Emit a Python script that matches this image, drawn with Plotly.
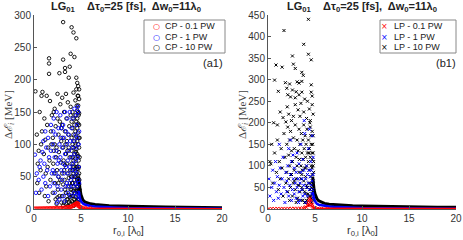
import plotly.graph_objects as go

# ---------------- data ----------------
# Left panel: circularly polarised (CP), scattered particles (r0 [lambda0], dE [MeV])
cp10_pts = [(0.15,182),(0.3,115),(0.6,150),(0.9,181),(0.8,175),(0.5,90),(0.7,60),(0.35,40),(0.85,120),(0.55,25),(0.75,100),(0.4,70),
    (1.2,107),(1.35,175),(1.7,167),(1.6,233),(1.6,225),(1.6,209),(1.1,140),(1.4,130),(1.05,85),(1.25,55),(1.5,95),(1.8,120),(1.65,75),(1.9,145),(1.3,35),(1.75,45),(1.15,20),(1.55,12),(1.85,100),(1.45,65),
    (2.0,110),(2.1,150),(2.2,155),(2.3,128),(2.4,95),(2.5,178),(2.6,115),(2.7,210),(2.8,162),(2.05,70),(2.15,55),(2.25,40),(2.35,80),(2.45,60),(2.55,30),(2.65,88),(2.75,135),(2.85,72),(2.0,25),(2.3,15),(2.6,50),(2.9,105),(2.4,8),(2.7,20),(2.8,45),(2.2,100),(2.5,140),(2.9,125),(2.1,90),
    (3.0,172),(3.1,289),(3.1,231),(3.2,150),(3.3,218),(3.3,212),(3.4,178),(3.6,165),(3.7,203),(3.8,220),(3.0,130),(3.05,110),(3.1,95),(3.15,75),(3.2,60),(3.25,45),(3.3,120),(3.35,100),(3.4,85),(3.45,140),(3.5,70),(3.55,55),(3.6,35),(3.65,115),(3.7,95),(3.75,128),(3.8,80),(3.85,60),(3.9,145),(3.0,20),(3.2,10),(3.4,25),(3.6,15),(3.8,40),(3.5,105),(3.7,48),(3.9,30),(3.3,68),(3.1,38),(3.55,90),(3.75,22),(3.45,8),
    (3.9,240),(3.9,158),(4.0,281),(4.1,150),(4.2,273),(4.2,180),(4.3,235),(4.4,168),(4.5,264),(4.5,203),(4.5,185),(4.6,195),(4.6,152),(4.7,190),(4.7,175),(4.7,160),(4.8,148),
    (4.0,135),(4.0,110),(4.0,90),(4.0,70),(4.0,50),(4.0,30),(4.05,12),(4.1,125),(4.1,100),(4.1,80),(4.1,60),(4.1,40),(4.15,20),(4.2,140),(4.2,115),(4.2,95),(4.2,75),(4.2,55),(4.25,35),(4.3,130),(4.3,105),(4.3,85),(4.3,65),(4.3,45),(4.35,25),(4.35,10),(4.4,145),(4.4,120),(4.4,98),(4.4,78),(4.4,58),(4.45,38),(4.45,18),(4.5,135),(4.5,112),(4.5,92),(4.5,70),(4.5,50),(4.55,30),(4.55,12),(4.6,140),(4.6,125),(4.6,105),(4.6,85),(4.6,65),(4.6,45),(4.65,28),(4.65,15),(4.7,150),(4.7,132),(4.7,118),(4.7,100),(4.7,82),(4.7,62),(4.7,42),(4.75,30),(4.75,20),(4.75,145),(4.75,110),(4.75,75),(4.8,130),(4.8,95),(4.8,55),(4.8,38),(4.8,25),(4.8,170),(4.8,185),(4.65,175),(4.55,160),
    (3.5,15),(3.6,5),(3.7,10),(3.8,18),(3.9,8),(3.95,50),(4.0,20),(4.05,40),(4.1,10),(4.15,65),(4.2,28),(4.25,5),(4.3,15),(4.35,50),(4.4,8),(4.45,88),(4.5,28),(4.55,62),(4.6,8),(4.62,35),(4.68,52),(4.72,10),(4.78,65),(4.82,45),(4.82,15),(4.85,80),(4.85,110),(4.85,30),(2.9,10),(3.1,5),(2.5,18),(3.3,30),(3.0,55),(2.6,40)]

cp1_pts = [(0.1,84),(0.2,25),(0.3,55),(0.5,45),(0.6,65),(0.8,30),(0.9,88),(1.0,50),(1.1,70),(1.2,40),(1.3,95),(1.4,60),(1.5,110),(1.6,80),(1.7,35),(1.8,130),(1.9,55),(1.2,120),(1.5,20),(1.0,105),(1.8,90),(0.7,75),
    (2.0,100),(2.0,60),(2.1,140),(2.1,40),(2.2,80),(2.2,25),(2.3,115),(2.3,55),(2.4,150),(2.4,90),(2.5,70),(2.5,35),(2.6,125),(2.6,50),(2.7,100),(2.7,15),(2.8,80),(2.8,145),(2.9,60),(2.9,30),(2.05,120),(2.45,10),(2.65,75),(2.85,110),
    (3.0,95),(3.0,45),(3.1,130),(3.1,70),(3.15,20),(3.2,110),(3.2,55),(3.3,85),(3.3,150),(3.35,35),(3.4,65),(3.4,120),(3.5,100),(3.5,40),(3.55,140),(3.6,75),(3.6,25),(3.65,55),(3.7,115),(3.7,90),(3.75,35),(3.8,150),(3.8,65),(3.85,105),(3.9,45),(3.9,20),(3.95,80),
    (4.0,125),(4.0,60),(4.05,95),(4.1,35),(4.1,140),(4.15,70),(4.2,50),(4.2,105),(4.25,25),(4.3,85),(4.3,155),(4.35,60),(4.4,40),(4.4,115),(4.45,75),(4.5,20),(4.5,95),(4.55,130),(4.55,55),(4.6,35),(4.6,110),(4.65,80),(4.7,45),(4.7,150),(4.7,25),(4.75,100),(4.75,65),(4.8,40),(4.8,120),(4.8,15),(4.65,158),(4.5,145),(3.25,12),(2.95,125)]

cp01_pts = [(0.05,0.5),(0.2,0.6),(0.35,0.5),(0.5,0.7),(0.65,0.6),(0.8,0.8),(0.95,0.7),(1.1,0.9),(1.25,0.8),(1.4,1.0),(1.55,0.9),(1.7,1.1),(1.85,1.0),(2.0,1.2),(2.15,1.1),(2.3,1.3),(2.45,1.2),(2.6,1.5),(2.75,1.4),(2.9,1.7),(3.05,1.6),(3.2,1.9),(3.35,2.0),(3.5,2.3),(3.6,2.5),(3.7,2.8),(3.8,3.0),(3.9,3.5),(4.0,4.0),(4.1,4.5),(4.2,5.5),(4.3,6.5),(4.4,7.5),(4.5,8.5),(4.55,6),(4.6,9),(4.65,7),(4.7,8),(4.75,5),(4.8,4),(4.9,3),(5.0,2.5),(5.2,1.8),(5.5,1.2),(6.0,0.8)]

# Tails (dense particle bands beyond the ring), shared radius samples
tail_x = [4.75, 4.8, 4.9, 5.0, 5.1, 5.2, 5.4, 5.7, 6.0, 6.5, 7.0, 8.0, 9.0, 10.0, 12.0, 14.0, 16.0, 18.0, 20.0]
cp10_tail = [50, 40, 30, 22, 17, 14, 11, 9, 8, 7, 6, 5, 4.5, 4, 3.5, 3, 2.6, 2.3, 2]
cp1_tail = [28, 22, 16, 12, 10, 8.5, 7, 5.5, 4.8, 4, 3.4, 2.5, 2, 1.5, 1.1, 0.9, 0.7, 0.5, 0.4]
cp01_tail = [3, 2.5, 2, 1.6, 1.4, 1.2, 1, 0.8, 0.7, 0.6, 0.5, 0.4, 0.35, 0.3, 0.25, 0.2, 0.2, 0.15, 0.15]

# Right panel: linearly polarised (LP)
lp10_pts = [(4.3,440),(1.7,414),(3.8,382),(2.6,355),(4.3,359),(4.6,346),(0.85,334),(1.5,329),(2.7,336),(2.9,326),(3.6,317),(3.75,310),(0.7,299),(1.85,293),(2.3,290),(3.1,295),(3.3,292),(3.6,296),(4.6,288),(1.1,273),(2.6,276),(3.0,272),(3.6,271),(4.6,271),(2.1,265),(2.4,260),(2.9,258),(3.9,255),(4.7,262),(2.05,237),(2.9,242),(4.7,242),(0.3,105),(1.3,225),(1.6,212),(2.2,220),(2.5,205),(3.2,230),(3.4,215),(3.8,225),(4.1,210),(4.4,232),(4.8,220),(0.6,200),(1.9,202),(2.7,215),(3.5,245),(4.2,250),(4.5,205),(2.0,280),(3.3,265),(0.4,150),(1.0,195),
    (0.2,110),(0.5,60),(0.7,130),(0.9,85),(1.0,160),(1.1,45),(1.2,110),(1.3,70),(1.4,140),(1.5,95),(1.6,30),(1.7,175),(1.8,120),(1.9,60),(2.0,150),(2.0,85),(2.1,40),(2.1,190),(2.2,125),(2.2,70),(2.3,160),(2.3,100),(2.4,50),(2.4,180),(2.5,135),(2.5,80),(2.6,110),(2.6,30),(2.7,165),(2.7,60),(2.8,140),(2.8,90),(2.9,195),(2.9,45),
    (3.0,120),(3.0,70),(3.1,160),(3.1,100),(3.15,25),(3.2,135),(3.2,55),(3.3,185),(3.3,85),(3.35,115),(3.4,40),(3.4,150),(3.5,70),(3.5,100),(3.55,175),(3.6,130),(3.6,50),(3.65,90),(3.7,160),(3.7,20),(3.75,115),(3.8,65),(3.8,195),(3.85,140),(3.9,95),(3.9,40),(3.95,170),
    (4.0,120),(4.0,75),(4.05,150),(4.1,55),(4.1,100),(4.15,185),(4.2,130),(4.2,80),(4.25,35),(4.3,160),(4.3,110),(4.35,60),(4.4,140),(4.4,90),(4.45,200),(4.5,120),(4.5,45),(4.55,170),(4.55,75),(4.6,150),(4.6,100),(4.65,130),(4.65,55),(4.7,180),(4.7,115),(4.7,80),(4.75,150),(4.75,40),(4.8,100),(4.8,130),(4.8,65),(4.8,170),(4.6,25),(4.4,30),(4.2,15),(3.0,15),(2.3,20),(4.7,95),(4.5,190),
    (3.5,20),(3.7,45),(3.9,15),(4.0,35),(4.1,20),(4.2,50),(4.3,25),(4.4,10),(4.5,60),(4.55,30),(4.6,50),(4.65,15),(4.7,35),(4.75,60),(4.8,20),(4.8,45),(4.85,85),(4.85,110),(3.3,55),(3.6,80),(2.8,65),(3.2,20),(4.0,95),(4.35,130)]

lp1_pts = [(0.1,70),(0.2,30),(0.4,50),(0.5,90),(0.6,20),(0.7,60),(0.8,110),(0.9,40),(1.0,75),(1.1,25),(1.2,55),(1.3,95),(1.4,35),(1.5,70),(1.6,120),(1.7,50),(1.8,15),(1.9,85),
    (2.0,40),(2.0,65),(2.1,100),(2.2,30),(2.2,140),(2.3,55),(2.4,80),(2.5,20),(2.5,110),(2.6,45),(2.7,70),(2.8,35),(2.8,95),(2.9,60),
    (3.0,25),(3.0,85),(3.1,130),(3.1,50),(3.2,70),(3.3,40),(3.3,105),(3.4,60),(3.4,20),(3.5,85),(3.5,150),(3.6,45),(3.6,70),(3.7,30),(3.7,115),(3.8,55),(3.8,90),(3.9,175),(3.9,35),
    (4.0,70),(4.0,15),(4.1,50),(4.1,100),(4.2,80),(4.2,30),(4.3,60),(4.3,140),(4.4,45),(4.4,185),(4.5,75),(4.5,20),(4.55,110),(4.6,55),(4.6,90),(4.65,35),(4.7,65),(4.7,170),(4.75,45),(4.8,80),(4.8,25),(4.8,120),(3.85,205),(2.4,160),(1.2,150),(4.35,90),(3.25,15),(2.65,125)]

lp01_pts = [(0.1,1),(0.4,1.2),(0.7,1),(1.0,1.3),(1.3,1.1),(1.6,1.4),(1.9,1.2),(2.2,1.5),(2.5,1.3),(2.8,1.7),(3.1,1.5),(3.4,2),(3.7,2.5),(3.9,3),(4.0,5),(4.1,4),(4.2,8),(4.25,12),(4.3,18),(4.35,10),(4.4,22),(4.45,15),(4.5,25),(4.55,8),(4.6,20),(4.65,12),(4.7,6),(4.75,10),(4.8,4),(4.9,3),(5.0,2.5),(5.3,2),(5.7,1.5),(6.3,1.2)]

lp10_tail = [75, 60, 45, 35, 28, 24, 19, 15, 13, 11, 10, 8.5, 7.5, 7, 6, 5.3, 4.7, 4.2, 3.8]
lp1_tail = [40, 32, 24, 18, 15, 12, 10, 8.5, 7, 6, 5, 4, 3.3, 2.5, 1.8, 1.5, 1.2, 1, 0.8]
lp01_tail = [3, 2.5, 2.2, 2, 1.8, 1.6, 1.4, 1.3, 1.2, 1.1, 1, 0.8, 0.7, 0.6, 0.5, 0.45, 0.4, 0.35, 0.3]

x_ticks = [0, 5, 10, 15, 20]
left_y_ticks = [0, 50, 100, 150, 200, 250, 300]
right_y_ticks = [0, 50, 100, 150, 200, 250, 300, 350, 400, 450]

left_labels = ["CP - 0.1 PW", "CP - 1 PW", "CP - 10 PW"]
right_labels = ["LP - 0.1 PW", "LP - 1 PW", "LP - 10 PW"]
series_colors = ["#ff0000", "#0000ff", "#000000"]

title_text = "<b>LG<sub>01</sub>    Δτ<sub>0</sub>=25 [fs],  Δw<sub>0</sub>=11λ<sub>0</sub></b>"

# ---------------- figure ----------------
W, H = 463, 240
def px(x): return x / W
def py(y): return 1 - y / H

fig = go.Figure()

def add_cloud(pts, color, symbol, size, lw, xa, ya):
    fig.add_trace(go.Scatter(x=[p[0] for p in pts], y=[p[1] for p in pts], mode="markers",
                             marker=dict(symbol=symbol, size=size, color=color, line=dict(color=color, width=lw)),
                             xaxis=xa, yaxis=ya, showlegend=False, hoverinfo="skip"))

def add_tail(ys, color, width, xa, ya):
    fig.add_trace(go.Scatter(x=tail_x, y=ys, mode="lines", line=dict(color=color, width=width),
                             xaxis=xa, yaxis=ya, showlegend=False, hoverinfo="skip"))

# left panel
add_tail(cp10_tail, "#000000", 3, "x", "y")
add_cloud(cp10_pts, "#000000", "circle-open", 3.5, 0.9, "x", "y")
add_tail(cp1_tail, "#0000ff", 2.5, "x", "y")
add_cloud(cp1_pts, "#0000ff", "circle-open", 3.5, 0.9, "x", "y")
add_tail(cp01_tail, "#ff0000", 2, "x", "y")
add_cloud(cp01_pts, "#ff0000", "circle-open", 3.5, 0.9, "x", "y")

# right panel
add_tail(lp10_tail, "#000000", 3, "x2", "y2")
add_cloud(lp10_pts, "#000000", "x-thin-open", 3, 1, "x2", "y2")
add_tail(lp1_tail, "#0000ff", 2.5, "x2", "y2")
add_cloud(lp1_pts, "#0000ff", "x-thin-open", 3, 1, "x2", "y2")
add_tail(lp01_tail, "#ff0000", 2, "x2", "y2")
add_cloud(lp01_pts, "#ff0000", "x-thin-open", 3, 1, "x2", "y2")

axis_common = dict(showline=True, linecolor="#555555", linewidth=1, ticks="inside", ticklen=3,
                   tickcolor="#555555", showgrid=False, zeroline=False, automargin=False,
                   tickfont=dict(family="Liberation Sans, Arial, sans-serif", size=10, color="#333333"))

ydom = [py(209), py(15)]
fig.update_layout(
    width=W, height=H, margin=dict(l=0, r=0, t=0, b=0, pad=0), autosize=False,
    paper_bgcolor="white", plot_bgcolor="white",
    xaxis=dict(domain=[px(34), px(222)], range=[0, 20], tickvals=x_ticks, anchor="y", **axis_common),
    yaxis=dict(domain=ydom, range=[0, 300], tickvals=left_y_ticks, anchor="x", **axis_common),
    xaxis2=dict(domain=[px(268), px(456)], range=[0, 20], tickvals=x_ticks, anchor="y2", **axis_common),
    yaxis2=dict(domain=ydom, range=[0, 450], tickvals=right_y_ticks, anchor="x2", **axis_common),
)

ann = []
sans = "Liberation Sans, Arial, sans-serif"
# titles
for cx in (126, 362):
    ann.append(dict(x=px(cx), y=py(7), xref="paper", yref="paper", text=title_text, showarrow=False,
                    font=dict(family=sans, size=11, color="#222222"), xanchor="center", yanchor="middle"))
# x-axis titles
for cx in (128, 362):
    ann.append(dict(x=px(cx), y=py(231), xref="paper", yref="paper", text="r<sub>0,i</sub> [λ<sub>0</sub>]",
                    showarrow=False, font=dict(family=sans, size=11, color="#333333"),
                    xanchor="center", yanchor="middle"))
# y-axis titles
for cx in (9, 243):
    ann.append(dict(x=px(cx), y=py(115), xref="paper", yref="paper",
                    text="Δ<i>ℰ<sub>i</sub></i> [MeV]", textangle=-90, showarrow=False,
                    font=dict(family="Liberation Serif, Times New Roman, serif", size=11, color="#444444"),
                    xanchor="center", yanchor="middle"))
# panel tags
ann.append(dict(x=px(213), y=py(63), xref="paper", yref="paper", text="(a1)", showarrow=False,
                font=dict(family=sans, size=11, color="#222222"), xanchor="center", yanchor="middle"))
ann.append(dict(x=px(446), y=py(63), xref="paper", yref="paper", text="(b1)", showarrow=False,
                font=dict(family=sans, size=11, color="#222222"), xanchor="center", yanchor="middle"))

# legends (drawn manually for compact MATLAB-like rows)
row_y = [26.5, 37, 47.5]
shapes = []
for (bx0, bx1, mx, tx, labels, sym) in [(144, 225, 156, 163, left_labels, "○"),
                                        (380, 456, 384.5, 392, right_labels, "×")]:
    shapes.append(dict(type="rect", xref="paper", yref="paper", x0=px(bx0), x1=px(bx1),
                       y0=py(53), y1=py(20), line=dict(color="#888888", width=1), fillcolor="white", layer="above"))
    for ry, lab, col in zip(row_y, labels, series_colors):
        ann.append(dict(x=px(mx), y=py(ry), xref="paper", yref="paper", text=sym, showarrow=False,
                        font=dict(family="DejaVu Sans", size=8, color=col),
                        xanchor="center", yanchor="middle"))
        ann.append(dict(x=px(tx), y=py(ry), xref="paper", yref="paper", text=lab, showarrow=False,
                        font=dict(family=sans, size=9, color="#222222"), xanchor="left", yanchor="middle"))

fig.update_layout(annotations=ann, shapes=shapes)
fig.write_html("out.html", config={"responsive": False, "displayModeBar": False, "staticPlot": True},
               post_script="document.body.style.margin='0';document.body.style.padding='0';")
